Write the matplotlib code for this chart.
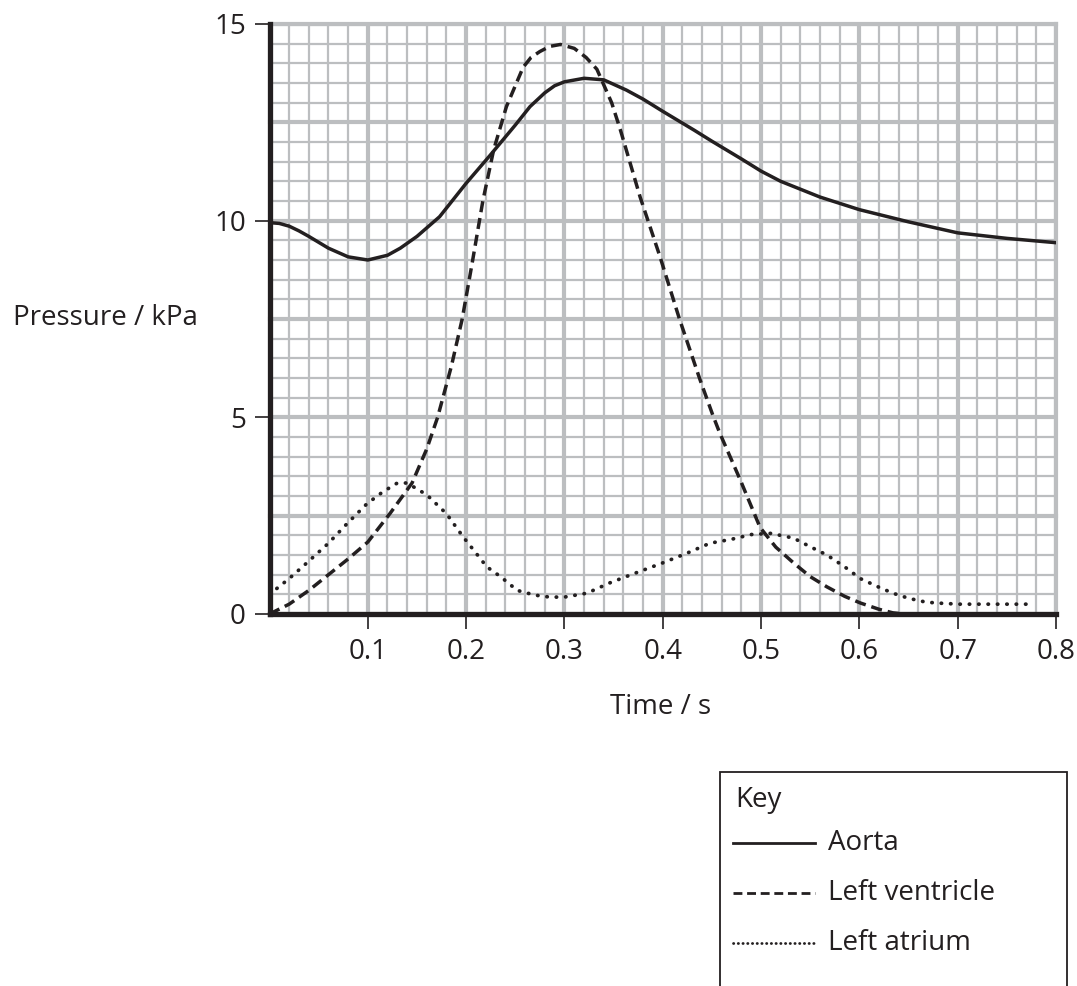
import matplotlib
matplotlib.use("Agg")
import matplotlib.pyplot as plt
from matplotlib.ticker import MultipleLocator, FixedLocator
from matplotlib.lines import Line2D
from matplotlib.patches import Rectangle

plt.rcParams['font.family'] = ['Open Sans', 'DejaVu Sans']

# values (time in s, pressure in kPa)
aorta_t = [0, 0.01, 0.02, 0.03, 0.04, 0.06, 0.08, 0.10, 0.12, 0.133, 0.15, 0.173,
           0.20, 0.224, 0.25, 0.265, 0.28, 0.29, 0.30, 0.32, 0.34, 0.363, 0.38, 0.40, 0.432,
           0.45, 0.48, 0.50, 0.52, 0.56, 0.60, 0.65, 0.70, 0.75, 0.80]
aorta_p = [9.95, 9.93, 9.86, 9.74, 9.6, 9.3, 9.08, 9.0, 9.12, 9.3, 9.6, 10.1,
           10.95, 11.65, 12.43, 12.9, 13.25, 13.43, 13.53, 13.62, 13.58, 13.32, 13.09, 12.78, 12.3,
           12.02, 11.57, 11.26, 11.0, 10.6, 10.28, 9.97, 9.69, 9.55, 9.44]

ventricle_t = [0, 0.02, 0.04, 0.06, 0.08, 0.10, 0.123, 0.145, 0.16, 0.171, 0.185,
               0.196, 0.206, 0.217, 0.228, 0.241, 0.258, 0.266, 0.275, 0.285, 0.296,
               0.31, 0.322, 0.333, 0.348, 0.357, 0.377, 0.397, 0.417, 0.438, 0.451,
               0.458, 0.479, 0.499, 0.515, 0.533, 0.55, 0.567, 0.585, 0.601, 0.62,
               0.634, 0.645]
ventricle_p = [0, 0.25, 0.6, 1.0, 1.4, 1.83, 2.57, 3.33, 4.2, 5.0, 6.3,
               7.5, 8.9, 10.5, 11.8, 12.9, 13.9, 14.15, 14.3, 14.43, 14.48,
               14.38, 14.15, 13.85, 13.0, 12.3, 10.6, 9.1, 7.5, 5.95, 5.05,
               4.6, 3.4, 2.2, 1.7, 1.3, 0.95, 0.69, 0.45, 0.28, 0.12,
               0.03, 0.0]

atrium_t = [0, 0.02, 0.038, 0.06, 0.079, 0.099, 0.115, 0.13, 0.14, 0.16, 0.18, 0.197,
            0.21, 0.221, 0.235, 0.252, 0.27, 0.285, 0.30, 0.323, 0.346, 0.37, 0.40,
            0.425, 0.448, 0.47, 0.49, 0.51, 0.533, 0.55, 0.567, 0.585, 0.601, 0.62,
            0.634, 0.65, 0.668, 0.685, 0.702, 0.74, 0.777]
atrium_p = [0.5, 0.9, 1.3, 1.8, 2.3, 2.8, 3.1, 3.33, 3.33, 3.03, 2.55, 1.96,
            1.55, 1.2, 0.95, 0.6, 0.48, 0.43, 0.43, 0.53, 0.79, 1.02, 1.3,
            1.55, 1.8, 1.9, 2.02, 2.05, 1.93, 1.71, 1.5, 1.2, 0.9, 0.68,
            0.53, 0.4, 0.3, 0.27, 0.25, 0.25, 0.25]

x_ticks = [0.1, 0.2, 0.3, 0.4, 0.5, 0.6, 0.7, 0.8]
y_ticks = [0, 5, 10, 15]
key_labels = ['Aorta', 'Left ventricle', 'Left atrium']

W, H = 1077, 986
ink = '#231f20'
fig = plt.figure(figsize=(W / 100, H / 100), dpi=100)
ax = fig.add_axes([269.5 / W, 1 - 614 / H, (1056 - 269.5) / W, (614 - 24) / H])

grid_col = '#bcbec0'
ax.set_xlim(0, 0.8)
ax.set_ylim(0, 15)
ax.xaxis.set_major_locator(FixedLocator(x_ticks))
ax.xaxis.set_minor_locator(MultipleLocator(0.02))
ax.yaxis.set_major_locator(FixedLocator(y_ticks))
ax.yaxis.set_minor_locator(MultipleLocator(0.5))
ax.set_xticklabels([f'{v:.1f}' for v in x_ticks])
ax.set_yticklabels([str(v) for v in y_ticks])

ax.grid(which='minor', color=grid_col, lw=1.6, zorder=0)
ax.grid(which='major', color=grid_col, lw=3, zorder=0)
for v in [2.5, 7.5, 12.5, 15]:
    ax.axhline(v, color=grid_col, lw=3, zorder=0, clip_on=False)
ax.axvline(0.8, color=grid_col, lw=3, zorder=0, clip_on=False)
ax.set_axisbelow(True)

for s in ['top', 'right']:
    ax.spines[s].set_visible(False)
for s in ['left', 'bottom']:
    ax.spines[s].set_linewidth(3.8)
    ax.spines[s].set_color(ink)
    ax.spines[s].set_zorder(5)

ax.tick_params(which='major', length=11, width=1.2, color=ink,
               labelsize=20, labelcolor=ink)
ax.tick_params(axis='x', pad=6)
ax.tick_params(axis='y', pad=6)
ax.tick_params(which='minor', length=0)

dash = (3.2, 1.7)
dot = (0.1, 2.4)
ax.plot(aorta_t, aorta_p, color=ink, lw=2.5, zorder=3)
ax.plot(ventricle_t, ventricle_p, color=ink, lw=2.5, dashes=dash, zorder=3)
ax.plot(atrium_t, atrium_p, color=ink, lw=2.7, dashes=dot, dash_capstyle='round', zorder=3)

fig.text(13 / W, 1 - 318 / H, 'Pressure / kPa', fontsize=20, color=ink,
         ha='left', va='center')
fig.text(661 / W, 1 - 707 / H, 'Time / s', fontsize=20, color=ink,
         ha='center', va='center')

# key box, cut off at the bottom edge like the reference
fig.add_artist(Rectangle((720 / W, -0.05), (1067 - 720) / W, (1 - 772 / H) + 0.05,
                         transform=fig.transFigure, fill=False, ec=ink, lw=1.3))
fig.text(735 / W, 1 - 800 / H, 'Key', fontsize=20, color=ink, va='center')
styles = [dict(), dict(dashes=(3.2, 1.7)), dict(dashes=(0.1, 1.6), dash_capstyle='round')]
for i, (lab, st) in enumerate(zip(key_labels, styles)):
    yy = 1 - (843 + 50 * i) / H
    fig.add_artist(Line2D([733 / W, 815 / W], [yy, yy], transform=fig.transFigure,
                          color=ink, lw=2.0, **st))
    fig.text(828 / W, yy, lab, fontsize=20, color=ink, va='center')

fig.savefig('out.png', dpi=100)
